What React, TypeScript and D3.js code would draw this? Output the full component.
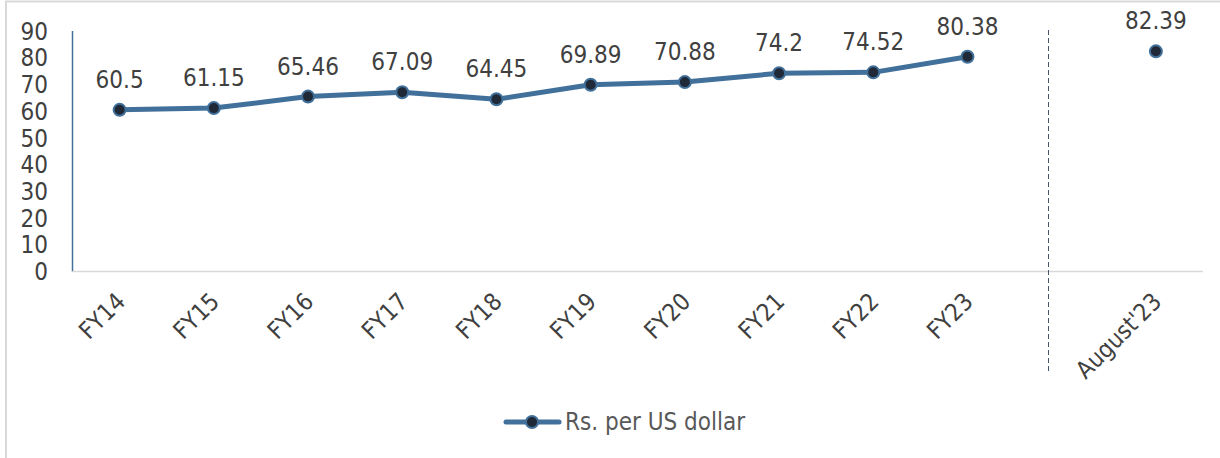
import * as d3 from 'd3';

const categories = ['FY14', 'FY15', 'FY16', 'FY17', 'FY18', 'FY19', 'FY20', 'FY21', 'FY22', 'FY23', '', "August'23"];
const fyLabels = ['FY14', 'FY15', 'FY16', 'FY17', 'FY18', 'FY19', 'FY20', 'FY21', 'FY22', 'FY23'];
const fyValues = [60.5, 61.15, 65.46, 67.09, 64.45, 69.89, 70.88, 74.2, 74.52, 80.38];
const latestLabel = "August'23";
const latestValue = 82.39;
const yTicks = [0, 10, 20, 30, 40, 50, 60, 70, 80, 90];
const seriesName = 'Rs. per US dollar';

const W = 1220;
const H = 458;
const FONT = '"DejaVu Sans Condensed", "Noto Sans", sans-serif';
const LINE = '#41709a';
const DOT = '#1f2937';
const TEXT = '#404040';

export default function App() {
  const x = d3.scaleBand<string>().domain(categories).range([72.5, 1203]).padding(0);
  const y = d3.scaleLinear().domain([0, 90]).range([271.5, 31]);
  const cx = (c: string) => (x(c) ?? 0) + x.bandwidth() / 2;

  const pts = fyLabels.map((c, i) => ({ c, v: fyValues[i] }));
  const line = d3
    .line<{ c: string; v: number }>()
    .x((d) => cx(d.c))
    .y((d) => y(d.v));

  const all = [...pts, { c: latestLabel, v: latestValue }];
  // dashed divider sits inside the empty slot before the latest month
  const sepX = (x('') ?? 0) + x.bandwidth() * 0.36;

  return (
    <svg width={W} height={H} style={{ position: 'absolute', left: 0, top: 0 }} fontFamily={FONT}>
      <rect x={0} y={0} width={W} height={H} fill="#fff" />
      <rect x={6} y={1.5} width={W + 20} height={H + 20} fill="none" stroke="#d9d9d9" strokeWidth={2} />

      {/* y axis */}
      <line x1={72.5} x2={72.5} y1={y(90)} y2={y(0)} stroke={LINE} strokeWidth={1.5} />
      <line x1={72.5} x2={1203} y1={y(0)} y2={y(0)} stroke="#d9d9d9" strokeWidth={1.5} />
      {yTicks.map((t) => (
        <text key={t} x={48} y={y(t)} dy="0.36em" textAnchor="end" fontSize={24} fill={TEXT}>
          {t}
        </text>
      ))}

      {/* separator */}
      <line x1={sepX} x2={sepX} y1={30} y2={372} stroke="#44546a" strokeWidth={1} strokeDasharray="5 3" />

      {/* x labels */}
      {categories
        .filter((c) => c !== '')
        .map((c) => (
          <text
            key={c}
            transform={`translate(${cx(c) + 7},303) rotate(-45)`}
            textAnchor="end"
            fontSize={24}
            fill={TEXT}
          >
            {c}
          </text>
        ))}

      <path d={line(pts) ?? ''} fill="none" stroke={LINE} strokeWidth={5} strokeLinejoin="round" />
      {all.map((d) => (
        <g key={d.c}>
          <circle cx={cx(d.c)} cy={y(d.v)} r={6} fill={DOT} stroke={LINE} strokeWidth={2} />
          <text x={cx(d.c)} y={y(d.v) - 22} textAnchor="middle" fontSize={24} fill={TEXT}>
            {d.v}
          </text>
        </g>
      ))}

      {/* legend */}
      <line x1={506} x2={559} y1={422} y2={422} stroke={LINE} strokeWidth={5} strokeLinecap="round" />
      <circle cx={532} cy={422} r={6} fill={DOT} stroke={LINE} strokeWidth={2} />
      <text x={565} y={430} fontSize={24} fill="#595959">
        {seriesName}
      </text>
    </svg>
  );
}
